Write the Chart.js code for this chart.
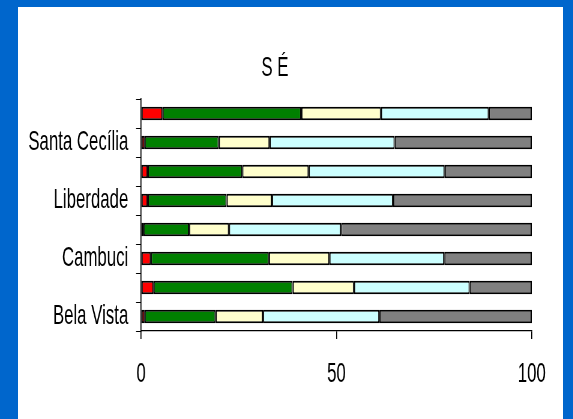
<!DOCTYPE html>
<html>
<head>
<meta charset="utf-8">
<script src="https://cdn.jsdelivr.net/npm/chart.js@4"></script>
<style>
    html, body { margin: 0; padding: 0; background: #0066CC; overflow: hidden; }
    #box { position: absolute; left: 18px; top: 7px; width: 545px; height: 412px; background: #fff; }
    /* the reference is squeezed sideways, so draw wide and shrink */
    #graph { display: block; width: 545px !important; height: 412px !important; }
</style>
</head>
<body>
<div id="box"><canvas id="graph" width="908" height="412"></canvas></div>
<script>
const FONT = "'Liberation Sans', Arial, sans-serif";

const districts = ["Bela Vista", "Bom Retiro", "Cambuci", "Consolação", "Liberdade", "República", "Santa Cecília", "Sé"];
const red = [0.9, 3.2, 2.5, 0.6, 1.7, 1.7, 0.9, 5.5];
const green = [18.2, 35.6, 30.2, 11.7, 20.2, 24.2, 19.0, 35.5];
const yellow = [12.1, 15.7, 15.5, 10.2, 11.6, 17.0, 13.0, 20.4];
const cyan = [29.8, 29.6, 29.4, 28.7, 31.0, 34.8, 32.0, 27.6];
const gray = [39.0, 15.9, 22.4, 48.8, 35.5, 22.3, 35.1, 11.0];
const xTicks = [0, 50, 100];

function serie(data, color) {
    return {
        data: data,
        backgroundColor: color,
        borderColor: "#000",
        borderWidth: 2,
        borderSkipped: false,
        barPercentage: 0.47,
        categoryPercentage: 1
    };
}

var graph = document.getElementById("graph").getContext("2d");

var chart = new Chart(graph, {
    type: "bar",
    data: {
        labels: districts,
        datasets: [
            serie(red, "#FF0000"),
            serie(green, "#008000"),
            serie(yellow, "#FFFFCC"),
            serie(cyan, "#CCFFFF"),
            serie(gray, "#808080")
        ]
    },
    options: {
        indexAxis: "y",
        responsive: false,
        animation: false,
        layout: { padding: { left: 0, right: 52, top: 0, bottom: 0 } },
        plugins: {
            legend: { display: false },
            tooltip: { enabled: false },
            title: {
                display: true,
                text: "S É",
                color: "#000",
                font: { family: FONT, size: 28, weight: "normal" },
                padding: { top: 44.4, bottom: 14 }
            }
        },
        scales: {
            x: {
                stacked: true,
                min: 0,
                max: 100,
                afterBuildTicks: scale => { scale.ticks = xTicks.map(v => ({ value: v })); },
                afterFit: scale => { scale.height = 88; },
                border: { color: "#000", width: 1.2 },
                grid: { drawOnChartArea: false, color: "#000", lineWidth: 1.7, tickLength: 8 },
                ticks: { color: "#000", padding: 18, maxRotation: 0, font: { family: FONT, size: 28 } }
            },
            y: {
                stacked: true,
                reverse: true,
                afterFit: scale => { scale.width = 205; },
                border: { color: "#000", width: 1.7 },
                grid: { drawOnChartArea: false, color: "#000", lineWidth: 1, tickLength: 8.3, offset: true },
                ticks: {
                    color: "#000",
                    autoSkip: false,
                    padding: 13,
                    font: { family: FONT, size: 28 },
                    callback: (v, i) => i % 2 === 0 ? districts[i] : ""
                }
            }
        }
    }
});
</script>
</body>
</html>
